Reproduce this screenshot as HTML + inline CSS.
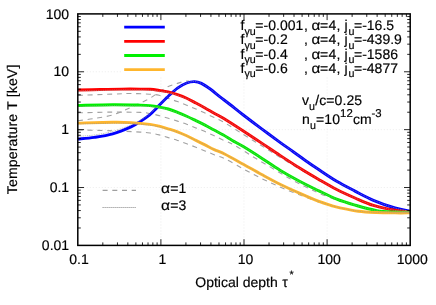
<!DOCTYPE html><html><head><meta charset="utf-8"><style>html,body{margin:0;padding:0;background:#fff}svg{display:block;will-change:transform;opacity:0.999}text{font-family:"Liberation Sans",sans-serif;font-size:14px;fill:#000;stroke:#000;stroke-width:0.18px;text-rendering:geometricPrecision}</style></head><body>
<svg width="436" height="305" viewBox="0 0 436 305">
<path d="M160.90 77.50 V245.40 M244.00 77.50 V245.40 M327.10 77.50 V245.40 M77.80 187.53 H410.20 M77.80 129.65 H410.20 M77.80 71.78 H121.50" stroke="#e0e0e0" stroke-width="0.6" stroke-dasharray="1 2" fill="none"/>
<clipPath id="c"><rect x="77.80" y="13.90" width="333.90" height="231.50"/></clipPath>
<g clip-path="url(#c)" fill="none" stroke-linejoin="round">
<path d="M78.00 120.70 C80.72 120.33 88.52 119.47 94.30 118.50 C100.08 117.53 106.58 116.75 112.70 114.90 C118.82 113.05 124.88 110.13 131.00 107.40 C137.12 104.67 144.70 101.07 149.40 98.50 C154.10 95.93 156.05 94.00 159.20 92.00 C162.35 90.00 165.25 87.93 168.30 86.50 C171.35 85.07 174.73 84.28 177.50 83.40 C180.27 82.52 182.98 81.60 184.90 81.20 C186.82 80.80 188.32 81.03 189.00 81.00" stroke="#a2a2a2" stroke-width="1.1" stroke-dasharray="5 4.7"/>
<path d="M78.00 95.40 C83.78 95.18 103.87 94.42 112.70 94.10 C121.53 93.78 124.88 93.48 131.00 93.50 C137.12 93.52 144.70 93.90 149.40 94.20 C154.10 94.50 156.05 94.60 159.20 95.30 C162.35 96.00 165.25 97.35 168.30 98.40 C171.35 99.45 174.43 100.47 177.50 101.60 C180.57 102.73 183.63 103.97 186.70 105.20 C189.77 106.43 192.85 107.68 195.90 109.00 C198.95 110.32 201.95 111.67 205.00 113.10 C208.05 114.53 211.13 116.12 214.20 117.60 C217.27 119.08 218.55 119.20 223.40 122.00 C228.25 124.80 236.92 130.43 243.30 134.40 C249.68 138.37 255.58 142.00 261.70 145.80 C267.82 149.60 273.62 153.28 280.00 157.20 C286.38 161.12 293.62 165.53 300.00 169.30 C306.38 173.07 312.18 176.45 318.30 179.80 C324.42 183.15 333.63 187.80 336.70 189.40" stroke="#a2a2a2" stroke-width="1.1" stroke-dasharray="5 4.7"/>
<path d="M78.00 112.80 C83.78 112.68 102.33 112.17 112.70 112.10 C123.07 112.03 133.98 112.17 140.20 112.40 C146.42 112.63 146.83 112.97 150.00 113.50 C153.17 114.03 156.15 114.80 159.20 115.60 C162.25 116.40 165.25 117.38 168.30 118.30 C171.35 119.22 174.43 120.12 177.50 121.10 C180.57 122.08 183.63 123.07 186.70 124.20 C189.77 125.33 192.85 126.67 195.90 127.90 C198.95 129.13 201.95 130.28 205.00 131.60 C208.05 132.92 211.13 134.37 214.20 135.80 C217.27 137.23 220.07 138.67 223.40 140.20 C226.73 141.73 229.35 142.30 234.20 145.00 C239.05 147.70 246.38 152.67 252.50 156.40 C258.62 160.13 264.78 163.75 270.90 167.40 C277.02 171.05 283.52 175.10 289.20 178.30 C294.88 181.50 299.87 184.05 305.00 186.60 C310.13 189.15 314.17 191.13 320.00 193.60 C325.83 196.07 336.67 200.10 340.00 201.40" stroke="#a2a2a2" stroke-width="1.1" stroke-dasharray="5 4.7"/>
<path d="M78.00 129.90 C83.78 130.05 102.33 130.43 112.70 130.80 C123.07 131.17 133.98 131.73 140.20 132.10 C146.42 132.47 146.83 132.53 150.00 133.00 C153.17 133.47 156.15 134.13 159.20 134.90 C162.25 135.67 165.25 136.68 168.30 137.60 C171.35 138.52 174.43 139.38 177.50 140.40 C180.57 141.42 183.63 142.55 186.70 143.70 C189.77 144.85 192.85 146.10 195.90 147.30 C198.95 148.50 201.95 149.67 205.00 150.90 C208.05 152.13 210.87 153.38 214.20 154.70 C217.53 156.02 220.15 156.43 225.00 158.80 C229.85 161.17 237.18 165.60 243.30 168.90 C249.42 172.20 255.58 175.58 261.70 178.60 C267.82 181.62 273.62 184.27 280.00 187.00 C286.38 189.73 293.33 192.40 300.00 195.00 C306.67 197.60 316.67 201.33 320.00 202.60" stroke="#a2a2a2" stroke-width="1.1" stroke-dasharray="5 4.7"/>
<path d="M78.00 139.00 C80.72 138.73 88.52 138.25 94.30 137.40 C100.08 136.55 106.58 135.65 112.70 133.90 C118.82 132.15 126.42 128.95 131.00 126.90 C135.58 124.85 137.13 123.55 140.20 121.60 C143.27 119.65 146.77 117.33 149.40 115.20 C152.03 113.07 154.37 110.47 156.00 108.80 C157.63 107.13 157.15 107.30 159.20 105.20 C161.25 103.10 165.25 99.05 168.30 96.20 C171.35 93.35 174.43 90.30 177.50 88.10 C180.57 85.90 183.87 84.08 186.70 83.00 C189.53 81.92 192.05 81.53 194.50 81.60 C196.95 81.67 198.72 82.12 201.40 83.40 C204.08 84.68 207.55 87.10 210.60 89.30 C213.65 91.50 216.47 94.07 219.70 96.60 C222.93 99.13 226.07 101.43 230.00 104.50 C233.93 107.57 238.02 110.93 243.30 115.00 C248.58 119.07 255.58 124.35 261.70 128.90 C267.82 133.45 274.80 138.53 280.00 142.30 C285.20 146.07 288.73 148.52 292.90 151.50 C297.07 154.48 300.77 157.23 305.00 160.20 C309.23 163.17 313.02 165.78 318.30 169.30 C323.58 172.82 330.58 177.67 336.70 181.30 C342.82 184.93 348.88 187.93 355.00 191.10 C361.12 194.27 366.73 197.48 373.40 200.30 C380.07 203.12 388.90 206.17 395.00 208.00 C401.10 209.83 407.50 210.75 410.00 211.30" stroke="#0000ff" stroke-width="2.9"/>
<path d="M78.00 90.00 C81.67 89.92 92.68 89.65 100.00 89.50 C107.32 89.35 115.20 89.17 121.90 89.10 C128.60 89.03 135.52 89.07 140.20 89.10 C144.88 89.13 146.83 89.08 150.00 89.30 C153.17 89.52 156.15 89.97 159.20 90.40 C162.25 90.83 165.25 91.18 168.30 91.90 C171.35 92.62 174.43 93.63 177.50 94.70 C180.57 95.77 183.63 96.92 186.70 98.30 C189.77 99.68 192.85 101.40 195.90 103.00 C198.95 104.60 201.95 106.20 205.00 107.90 C208.05 109.60 211.13 111.47 214.20 113.20 C217.27 114.93 218.55 115.33 223.40 118.30 C228.25 121.27 236.92 126.87 243.30 131.00 C249.68 135.13 255.58 139.03 261.70 143.10 C267.82 147.17 273.62 151.20 280.00 155.40 C286.38 159.60 293.62 164.33 300.00 168.30 C306.38 172.27 312.18 175.67 318.30 179.20 C324.42 182.73 330.58 186.37 336.70 189.50 C342.82 192.63 348.88 195.35 355.00 198.00 C361.12 200.65 366.73 203.35 373.40 205.40 C380.07 207.45 388.90 209.23 395.00 210.30 C401.10 211.37 407.50 211.55 410.00 211.80" stroke="#ff0000" stroke-width="2.9"/>
<path d="M78.00 105.50 C83.78 105.37 102.33 104.77 112.70 104.70 C123.07 104.63 133.98 104.95 140.20 105.10 C146.42 105.25 146.83 105.28 150.00 105.60 C153.17 105.92 156.15 106.43 159.20 107.00 C162.25 107.57 165.25 108.12 168.30 109.00 C171.35 109.88 174.43 111.10 177.50 112.30 C180.57 113.50 183.63 114.82 186.70 116.20 C189.77 117.58 192.85 119.12 195.90 120.60 C198.95 122.08 201.95 123.52 205.00 125.10 C208.05 126.68 211.13 128.43 214.20 130.10 C217.27 131.77 220.38 133.38 223.40 135.10 C226.42 136.82 228.98 138.48 232.30 140.40 C235.62 142.32 238.40 143.63 243.30 146.60 C248.20 149.57 255.58 154.27 261.70 158.20 C267.82 162.13 273.62 166.32 280.00 170.20 C286.38 174.08 293.62 178.10 300.00 181.50 C306.38 184.90 312.18 187.67 318.30 190.60 C324.42 193.53 330.58 196.68 336.70 199.10 C342.82 201.52 348.33 203.18 355.00 205.10 C361.67 207.02 370.03 209.45 376.70 210.60 C383.37 211.75 389.45 211.72 395.00 212.00 C400.55 212.28 407.50 212.25 410.00 212.30" stroke="#00f000" stroke-width="2.9"/>
<path d="M78.00 123.10 C83.78 122.97 103.87 122.38 112.70 122.30 C121.53 122.22 124.78 122.25 131.00 122.60 C137.22 122.95 145.30 123.80 150.00 124.40 C154.70 125.00 156.15 125.47 159.20 126.20 C162.25 126.93 165.25 127.87 168.30 128.80 C171.35 129.73 174.43 130.63 177.50 131.80 C180.57 132.97 183.63 134.37 186.70 135.80 C189.77 137.23 192.85 138.88 195.90 140.40 C198.95 141.92 201.95 143.37 205.00 144.90 C208.05 146.43 210.87 148.05 214.20 149.60 C217.53 151.15 220.15 151.77 225.00 154.20 C229.85 156.63 237.18 160.82 243.30 164.20 C249.42 167.58 255.58 171.17 261.70 174.50 C267.82 177.83 273.62 181.05 280.00 184.20 C286.38 187.35 293.62 190.57 300.00 193.40 C306.38 196.23 313.10 199.18 318.30 201.20 C323.50 203.22 327.58 204.40 331.20 205.50 C334.82 206.60 335.48 206.85 340.00 207.80 C344.52 208.75 352.18 210.42 358.30 211.20 C364.42 211.98 370.58 212.22 376.70 212.50 C382.82 212.78 389.45 212.83 395.00 212.90 C400.55 212.97 407.50 212.90 410.00 212.90" stroke="#ffb62c" stroke-width="2.9"/>
<path d="M78.00 136.30 C80.72 136.08 88.52 135.82 94.30 135.00 C100.08 134.18 106.58 133.08 112.70 131.40 C118.82 129.72 126.42 126.75 131.00 124.90 C135.58 123.05 137.13 122.07 140.20 120.30 C143.27 118.53 146.77 116.35 149.40 114.30 C152.03 112.25 154.37 109.52 156.00 108.00 C157.63 106.48 157.15 107.17 159.20 105.20 C161.25 103.23 165.25 99.05 168.30 96.20 C171.35 93.35 174.43 90.30 177.50 88.10 C180.57 85.90 183.87 84.08 186.70 83.00 C189.53 81.92 192.05 81.53 194.50 81.60 C196.95 81.67 198.72 82.12 201.40 83.40 C204.08 84.68 207.55 87.10 210.60 89.30 C213.65 91.50 216.47 94.07 219.70 96.60 C222.93 99.13 226.07 101.43 230.00 104.50 C233.93 107.57 238.02 110.93 243.30 115.00 C248.58 119.07 255.58 124.35 261.70 128.90 C267.82 133.45 274.80 138.53 280.00 142.30 C285.20 146.07 288.73 148.52 292.90 151.50 C297.07 154.48 300.77 157.23 305.00 160.20 C309.23 163.17 313.02 165.78 318.30 169.30 C323.58 172.82 330.58 177.67 336.70 181.30 C342.82 184.93 348.88 187.93 355.00 191.10 C361.12 194.27 366.73 197.48 373.40 200.30 C380.07 203.12 388.90 206.17 395.00 208.00 C401.10 209.83 407.50 210.75 410.00 211.30" stroke="#989898" stroke-opacity="0.75" stroke-width="0.95" stroke-dasharray="0.9 0.9"/>
<path d="M78.00 90.90 C81.67 90.82 92.68 90.55 100.00 90.40 C107.32 90.25 115.20 90.07 121.90 90.00 C128.60 89.93 135.52 89.97 140.20 90.00 C144.88 90.03 146.83 90.01 150.00 90.20 C153.17 90.39 156.15 90.76 159.20 91.13 C162.25 91.51 165.25 91.81 168.30 92.47 C171.35 93.13 174.43 94.09 177.50 95.11 C180.57 96.12 183.63 97.21 186.70 98.54 C189.77 99.87 192.85 101.51 195.90 103.07 C198.95 104.63 201.95 106.21 205.00 107.90 C208.05 109.59 211.13 111.47 214.20 113.20 C217.27 114.93 218.55 115.33 223.40 118.30 C228.25 121.27 236.92 126.87 243.30 131.00 C249.68 135.13 255.58 139.03 261.70 143.10 C267.82 147.17 273.62 151.20 280.00 155.40 C286.38 159.60 293.62 164.33 300.00 168.30 C306.38 172.27 312.18 175.67 318.30 179.20 C324.42 182.73 330.58 186.37 336.70 189.50 C342.82 192.63 348.88 195.35 355.00 198.00 C361.12 200.65 366.73 203.35 373.40 205.40 C380.07 207.45 388.90 209.23 395.00 210.30 C401.10 211.37 407.50 211.55 410.00 211.80" stroke="#989898" stroke-opacity="0.75" stroke-width="0.95" stroke-dasharray="0.9 0.9"/>
<path d="M78.00 106.40 C83.78 106.27 102.33 105.67 112.70 105.60 C123.07 105.53 133.98 105.85 140.20 106.00 C146.42 106.15 146.83 106.21 150.00 106.50 C153.17 106.79 156.15 107.22 159.20 107.73 C162.25 108.25 165.25 108.74 168.30 109.57 C171.35 110.40 174.43 111.56 177.50 112.70 C180.57 113.85 183.63 115.11 186.70 116.44 C189.77 117.77 192.85 119.23 195.90 120.67 C198.95 122.12 201.95 123.53 205.00 125.10 C208.05 126.67 211.13 128.43 214.20 130.10 C217.27 131.77 220.38 133.38 223.40 135.10 C226.42 136.82 228.98 138.48 232.30 140.40 C235.62 142.32 238.40 143.63 243.30 146.60 C248.20 149.57 255.58 154.27 261.70 158.20 C267.82 162.13 273.62 166.32 280.00 170.20 C286.38 174.08 293.62 178.10 300.00 181.50 C306.38 184.90 312.18 187.67 318.30 190.60 C324.42 193.53 330.58 196.68 336.70 199.10 C342.82 201.52 348.33 203.18 355.00 205.10 C361.67 207.02 370.03 209.45 376.70 210.60 C383.37 211.75 389.45 211.72 395.00 212.00 C400.55 212.28 407.50 212.25 410.00 212.30" stroke="#989898" stroke-opacity="0.75" stroke-width="0.95" stroke-dasharray="0.9 0.9"/>
<path d="M78.00 124.00 C83.78 123.87 103.87 123.28 112.70 123.20 C121.53 123.12 124.78 123.15 131.00 123.50 C137.22 123.85 145.30 124.73 150.00 125.30 C154.70 125.87 156.15 126.26 159.20 126.93 C162.25 127.61 165.25 128.49 168.30 129.37 C171.35 130.25 174.43 131.09 177.50 132.21 C180.57 133.32 183.63 134.66 186.70 136.04 C189.77 137.42 192.85 139.00 195.90 140.47 C198.95 141.95 201.95 143.38 205.00 144.90 C208.05 146.42 210.87 148.05 214.20 149.60 C217.53 151.15 220.15 151.77 225.00 154.20 C229.85 156.63 237.18 160.82 243.30 164.20 C249.42 167.58 255.58 171.17 261.70 174.50 C267.82 177.83 273.62 181.05 280.00 184.20 C286.38 187.35 293.62 190.57 300.00 193.40 C306.38 196.23 313.10 199.18 318.30 201.20 C323.50 203.22 327.58 204.40 331.20 205.50 C334.82 206.60 335.48 206.85 340.00 207.80 C344.52 208.75 352.18 210.42 358.30 211.20 C364.42 211.98 370.58 212.22 376.70 212.50 C382.82 212.78 389.45 212.83 395.00 212.90 C400.55 212.97 407.50 212.90 410.00 212.90" stroke="#989898" stroke-opacity="0.75" stroke-width="0.95" stroke-dasharray="0.9 0.9"/>
</g>
<path d="M124.2 27.20 H164.8" stroke="#0000ff" stroke-width="2.8" fill="none"/>
<path d="M124.2 41.35 H164.8" stroke="#ff0000" stroke-width="2.8" fill="none"/>
<path d="M124.2 55.50 H164.8" stroke="#00f000" stroke-width="2.8" fill="none"/>
<path d="M124.2 69.65 H164.8" stroke="#ffb62c" stroke-width="2.8" fill="none"/>
<path d="M102.6 190.3 H136" stroke="#a0a0a0" stroke-width="1.2" stroke-dasharray="5 4.7" fill="none"/>
<path d="M102.6 207.5 H136" stroke="#808080" stroke-width="1" stroke-dasharray="1 1" fill="none"/>
<path d="M102.82 245.40 v-3.00 M102.82 13.90 v3.00 M117.45 245.40 v-3.00 M117.45 13.90 v3.00 M127.83 245.40 v-3.00 M127.83 13.90 v3.00 M135.88 245.40 v-3.00 M135.88 13.90 v3.00 M142.46 245.40 v-3.00 M142.46 13.90 v3.00 M148.03 245.40 v-3.00 M148.03 13.90 v3.00 M152.85 245.40 v-3.00 M152.85 13.90 v3.00 M157.10 245.40 v-3.00 M157.10 13.90 v3.00 M160.90 245.40 v-6.20 M160.90 13.90 v6.20 M185.92 245.40 v-3.00 M185.92 13.90 v3.00 M200.55 245.40 v-3.00 M200.55 13.90 v3.00 M210.93 245.40 v-3.00 M210.93 13.90 v3.00 M218.98 245.40 v-3.00 M218.98 13.90 v3.00 M225.56 245.40 v-3.00 M225.56 13.90 v3.00 M231.13 245.40 v-3.00 M231.13 13.90 v3.00 M235.95 245.40 v-3.00 M235.95 13.90 v3.00 M240.20 245.40 v-3.00 M240.20 13.90 v3.00 M244.00 245.40 v-6.20 M244.00 13.90 v6.20 M269.02 245.40 v-3.00 M269.02 13.90 v3.00 M283.65 245.40 v-3.00 M283.65 13.90 v3.00 M294.03 245.40 v-3.00 M294.03 13.90 v3.00 M302.08 245.40 v-3.00 M302.08 13.90 v3.00 M308.66 245.40 v-3.00 M308.66 13.90 v3.00 M314.23 245.40 v-3.00 M314.23 13.90 v3.00 M319.05 245.40 v-3.00 M319.05 13.90 v3.00 M323.30 245.40 v-3.00 M323.30 13.90 v3.00 M327.10 245.40 v-6.20 M327.10 13.90 v6.20 M352.12 245.40 v-3.00 M352.12 13.90 v3.00 M366.75 245.40 v-3.00 M366.75 13.90 v3.00 M377.13 245.40 v-3.00 M377.13 13.90 v3.00 M385.18 245.40 v-3.00 M385.18 13.90 v3.00 M391.76 245.40 v-3.00 M391.76 13.90 v3.00 M397.33 245.40 v-3.00 M397.33 13.90 v3.00 M402.15 245.40 v-3.00 M402.15 13.90 v3.00 M406.40 245.40 v-3.00 M406.40 13.90 v3.00 M77.80 227.98 h3.00 M410.20 227.98 h-3.00 M77.80 217.79 h3.00 M410.20 217.79 h-3.00 M77.80 210.56 h3.00 M410.20 210.56 h-3.00 M77.80 204.95 h3.00 M410.20 204.95 h-3.00 M77.80 200.36 h3.00 M410.20 200.36 h-3.00 M77.80 196.49 h3.00 M410.20 196.49 h-3.00 M77.80 193.13 h3.00 M410.20 193.13 h-3.00 M77.80 190.17 h3.00 M410.20 190.17 h-3.00 M77.80 187.53 h6.20 M410.20 187.53 h-6.20 M77.80 170.10 h3.00 M410.20 170.10 h-3.00 M77.80 159.91 h3.00 M410.20 159.91 h-3.00 M77.80 152.68 h3.00 M410.20 152.68 h-3.00 M77.80 147.07 h3.00 M410.20 147.07 h-3.00 M77.80 142.49 h3.00 M410.20 142.49 h-3.00 M77.80 138.61 h3.00 M410.20 138.61 h-3.00 M77.80 135.26 h3.00 M410.20 135.26 h-3.00 M77.80 132.30 h3.00 M410.20 132.30 h-3.00 M77.80 129.65 h6.20 M410.20 129.65 h-6.20 M77.80 112.23 h3.00 M410.20 112.23 h-3.00 M77.80 102.04 h3.00 M410.20 102.04 h-3.00 M77.80 94.81 h3.00 M410.20 94.81 h-3.00 M77.80 89.20 h3.00 M410.20 89.20 h-3.00 M77.80 84.61 h3.00 M410.20 84.61 h-3.00 M77.80 80.74 h3.00 M410.20 80.74 h-3.00 M77.80 77.38 h3.00 M410.20 77.38 h-3.00 M77.80 74.42 h3.00 M410.20 74.42 h-3.00 M77.80 71.78 h6.20 M410.20 71.78 h-6.20 M77.80 54.35 h3.00 M410.20 54.35 h-3.00 M77.80 44.16 h3.00 M410.20 44.16 h-3.00 M77.80 36.93 h3.00 M410.20 36.93 h-3.00 M77.80 31.32 h3.00 M410.20 31.32 h-3.00 M77.80 26.74 h3.00 M410.20 26.74 h-3.00 M77.80 22.86 h3.00 M410.20 22.86 h-3.00 M77.80 19.51 h3.00 M410.20 19.51 h-3.00 M77.80 16.55 h3.00 M410.20 16.55 h-3.00" stroke="#000" stroke-width="0.85" fill="none"/>
<rect x="77.80" y="13.90" width="332.40" height="231.50" fill="none" stroke="#000" stroke-width="1.5"/>
<text x="69.1" y="250.10" text-anchor="end">0.01</text>
<text x="69.1" y="192.22" text-anchor="end">0.1</text>
<text x="69.1" y="134.35" text-anchor="end">1</text>
<text x="69.1" y="76.48" text-anchor="end">10</text>
<text x="69.1" y="18.60" text-anchor="end">100</text>
<text x="79.00" y="264.1" text-anchor="middle">0.1</text>
<text x="162.30" y="264.1" text-anchor="middle">1</text>
<text x="245.60" y="264.1" text-anchor="middle">10</text>
<text x="329.10" y="264.1" text-anchor="middle">100</text>
<text x="412.30" y="264.1" text-anchor="middle">1000</text>
<text x="195.3" y="286.7">Optical depth <tspan dx="0.6">τ</tspan><tspan dy="-8.3" dx="1.6" font-size="10.7px">*</tspan></text>
<text transform="translate(17.3 194.2) rotate(-90)" letter-spacing="0.175">Temperature T [keV]</text>
<text y="30.40"><tspan x="240.6">f</tspan><tspan dy="4.2" font-size="10.7px">γu</tspan><tspan dy="-4.2" dx="-0.6" letter-spacing="0.05">=-0.001</tspan><tspan x="303.9">,</tspan><tspan x="311.5" textLength="8.8" lengthAdjust="spacingAndGlyphs">α</tspan><tspan x="320.0" letter-spacing="0.3">=4,</tspan><tspan x="344.4">j</tspan><tspan x="348.4" dy="4.2" font-size="10.7px">u</tspan><tspan x="354.0" dy="-4.2">=-16.5</tspan></text>
<text y="44.48"><tspan x="240.6">f</tspan><tspan dy="4.2" font-size="10.7px">γu</tspan><tspan dy="-4.2" dx="-0.6" letter-spacing="0.05">=-0.2</tspan><tspan x="303.9">,</tspan><tspan x="311.5" textLength="8.8" lengthAdjust="spacingAndGlyphs">α</tspan><tspan x="320.0" letter-spacing="0.3">=4,</tspan><tspan x="344.4">j</tspan><tspan x="348.4" dy="4.2" font-size="10.7px">u</tspan><tspan x="354.0" dy="-4.2">=-439.9</tspan></text>
<text y="58.56"><tspan x="240.6">f</tspan><tspan dy="4.2" font-size="10.7px">γu</tspan><tspan dy="-4.2" dx="-0.6" letter-spacing="0.05">=-0.4</tspan><tspan x="303.9">,</tspan><tspan x="311.5" textLength="8.8" lengthAdjust="spacingAndGlyphs">α</tspan><tspan x="320.0" letter-spacing="0.3">=4,</tspan><tspan x="344.4">j</tspan><tspan x="348.4" dy="4.2" font-size="10.7px">u</tspan><tspan x="354.0" dy="-4.2">=-1586</tspan></text>
<text y="72.64"><tspan x="240.6">f</tspan><tspan dy="4.2" font-size="10.7px">γu</tspan><tspan dy="-4.2" dx="-0.6" letter-spacing="0.05">=-0.6</tspan><tspan x="303.9">,</tspan><tspan x="311.5" textLength="8.8" lengthAdjust="spacingAndGlyphs">α</tspan><tspan x="320.0" letter-spacing="0.3">=4,</tspan><tspan x="344.4">j</tspan><tspan x="348.4" dy="4.2" font-size="10.7px">u</tspan><tspan x="354.0" dy="-4.2">=-4877</tspan></text>
<text x="302" y="105.2">v<tspan dy="4.8" font-size="10.7px">u</tspan><tspan dy="-4.8" dx="0.3">/c=</tspan><tspan dx="0.2" letter-spacing="0.1">0.25</tspan></text>
<text x="302" y="124.1">n<tspan dy="4.8" dx="0.2" font-size="10.7px">u</tspan><tspan dy="-4.8" dx="0.1" letter-spacing="0.1">=10</tspan><tspan dy="-7.4" dx="0" font-size="11.4px" letter-spacing="0.15">12</tspan><tspan dy="7.4" dx="-0.1">cm</tspan><tspan dy="-7.4" dx="-0.2" font-size="11.4px">-3</tspan></text>
<text y="192.9"><tspan x="161.0" textLength="9.0" lengthAdjust="spacingAndGlyphs">α</tspan><tspan x="170.3">=1</tspan></text>
<text y="210.2"><tspan x="161.0" textLength="9.0" lengthAdjust="spacingAndGlyphs">α</tspan><tspan x="170.3">=3</tspan></text>
</svg></body></html>
